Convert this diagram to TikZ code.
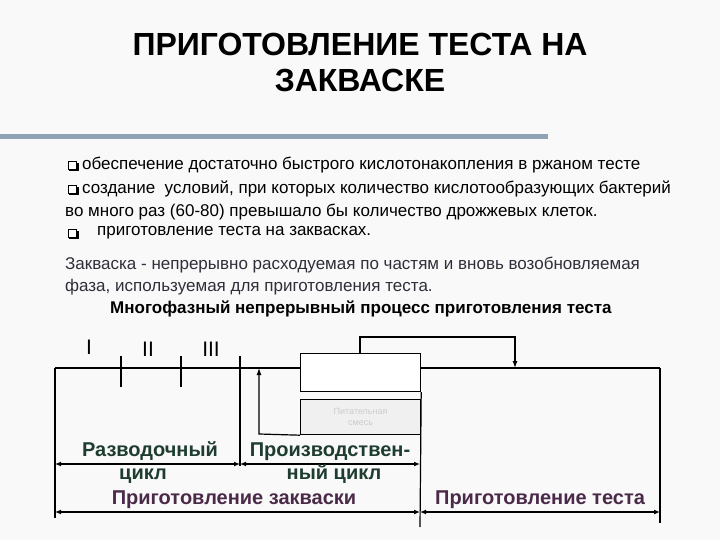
\documentclass[tikz,border=0pt]{standalone}
\usepackage{fontspec}
\setmainfont{Liberation Sans}
\usetikzlibrary{arrows.meta}
\definecolor{bar}{HTML}{8FA3B5}
\definecolor{grn}{HTML}{1E3D30}
\definecolor{prp}{HTML}{4A2A48}
\definecolor{txt}{HTML}{2F2F3A}
\tikzset{
 ln/.style={line width=1.2pt},
 dim/.style={line width=1.3pt,{Latex[length=6pt,width=5pt]}-{Latex[length=6pt,width=5pt]}},
 body/.style={anchor=west,inner sep=0pt,font=\fontsize{17}{20}\selectfont},
 lab/.style={font=\fontsize{20}{22}\selectfont\bfseries,inner sep=0pt,anchor=base},
 rom/.style={font=\fontsize{21}{22}\selectfont\rmfamily,inner sep=0pt},
 blt/.style={draw,line width=0.8pt,fill=white,minimum size=8pt,inner sep=0pt}
}
\begin{document}
\begin{tikzpicture}[x=1pt,y=-1pt]
\fill[gray!5] (0,0) rectangle (720,540);
\useasboundingbox (0,0) rectangle (720,540);
\node[font=\fontsize{32}{36}\selectfont\bfseries,align=center] (title) at (360,62) {ПРИГОТОВЛЕНИЕ ТЕСТА НА\\ЗАКВАСКЕ};
\fill[bar] (0,134) rectangle (548,139);
% bullets
\foreach \n/\y in {b1/165,b2/189,b4/233}{
 \fill[black] (69,\y-2) rectangle (79,\y+6);
 \node[blt] (\n) at (72,\y) {};
}
\node[body] (t1) at (82,165) {обеспечение достаточно быстрого кислотонакопления в ржаном тесте};
\node[body] (t2) at (82,189) {создание\ \ условий, при которых количество кислотообразующих бактерий};
\node[body] (t3) at (65,212) {во много раз (60-80) превышало бы количество дрожжевых клеток.};
\node[body] (t4) at (97,233) {приготовление теста на заквасках.};
\node[body,text=txt] (z1) at (65,265) {Закваска - непрерывно расходуемая по частям и вновь возобновляемая};
\node[body,text=txt] (z2) at (65,287) {фаза, используемая для приготовления теста.};
\node[body,font=\fontsize{17}{20}\selectfont\bfseries] (z3) at (110,309) {Многофазный непрерывный процесс приготовления теста};
% roman
\node[rom] (r1) at (89,347) {I};
\node[rom] (r2) at (148,349) {II};
\node[rom] (r3) at (211,349) {III};
% scheme
\coordinate (L0) at (55,368); \coordinate (L1) at (55,518);
\coordinate (R0) at (660,368); \coordinate (R1) at (660,523);
\node[draw,fill=white,ln,minimum width=120pt,minimum height=38pt,inner sep=0pt,anchor=north west] (wb) at (300,353) {};
\node[draw,fill=gray!12,ln,minimum width=120pt,minimum height=35pt,inner sep=0pt,anchor=north west,text=gray!40,font=\fontsize{9}{11}\selectfont,align=center] (gb) at (300,399) {Питательная\\смесь};
\draw[ln] (L0) -- (wb.north west |- L0);
\draw[ln] (wb.north east |- R0) -- (R0);
\draw[ln] (L0) -- (L1);
\draw[ln] (R0) -- (R1);
\draw[ln] (wb.south east) -- (420,527);
\draw[ln] (121,356) -- (121,387);
\draw[ln] (181,356) -- (181,387);
\draw[ln] (240,356) -- (240,466);
\draw[ln,-{Latex[length=7pt,width=5pt]}] (gb.south west) -- (259,434) -- (259,368);
\draw[ln,-{Latex[length=7pt,width=5pt]}] (360,353) -- (360,337) -- (515,337) -- (515,368);
\draw[dim] (55,464) -- (240,464);
\draw[dim] (240,464) -- (420,464);
\draw[dim] (55,512) -- (420,512);
\draw[dim] (420,512) -- (660,512);
\node[lab,text=grn] (a1) at (150,456) {Разводочный};
\node[lab,text=grn] (a2) at (143,479) {цикл};
\node[lab,text=grn] (a3) at (330,456) {Производствен-};
\node[lab,text=grn] (a4) at (334,479) {ный цикл};
\node[lab,text=prp] (a5) at (234,504) {Приготовление закваски};
\node[lab,text=prp] (a6) at (540,504) {Приготовление теста};
\end{tikzpicture}
\end{document}
